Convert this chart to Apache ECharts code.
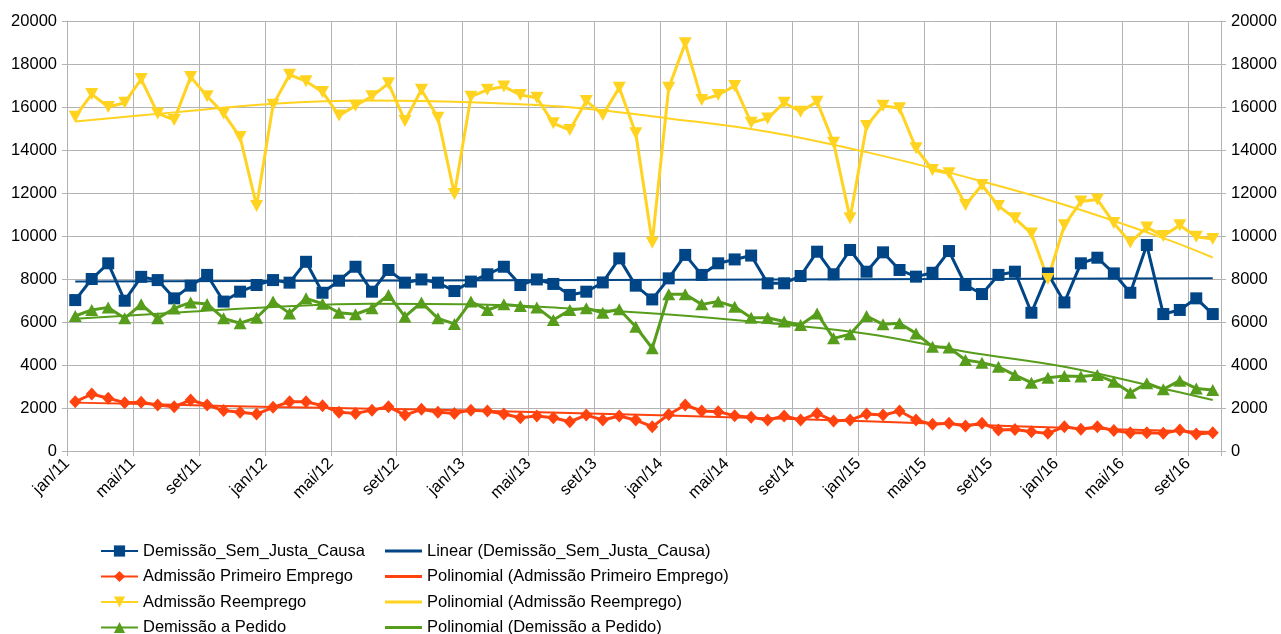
<!DOCTYPE html>
<html>
<head>
    <meta charset="utf-8">
    <title>Demissões e admissões</title>
    <script src="https://cdn.jsdelivr.net/npm/echarts/dist/echarts.min.js"></script>
    <style>
        html, body {
            margin: 0;
            padding: 0;
            background: #fff;
        }
        #chart {
            width: 1281px;
            height: 634px;
        }
    </style>
</head>
<body>
<div id="chart"></div>
<script>
    // categorias: jan/11 .. out/16
    var monthNames = ['jan', 'fev', 'mar', 'abr', 'mai', 'jun', 'jul', 'ago', 'set', 'out', 'nov', 'dez'];
    var years = ['11', '12', '13', '14', '15', '16'];
    var months = [];
    years.forEach(function (y) {
        monthNames.forEach(function (m) {
            months.push(m + '/' + y);
        });
    });
    months = months.slice(0, 70);

    var semJustaCausa = [
        7020, 8000, 8730, 6990, 8100, 7950, 7100, 7690, 8190, 6950, 7410, 7720,
        7950, 7830, 8800, 7360, 7920, 8570, 7410, 8420, 7830, 7980, 7830, 7440,
        7880, 8220, 8570, 7720, 7980, 7770, 7260, 7410, 7840, 8960, 7690, 7050,
        8030, 9120, 8190, 8730, 8910, 9090, 7800, 7800, 8140, 9270, 8220, 9350,
        8340, 9240, 8420, 8110, 8290, 9300, 7720, 7300, 8190, 8340, 6430, 8260,
        6910, 8730, 8990, 8260, 7360, 9580, 6370, 6560, 7100, 6370
    ];
    var primeiroEmprego = [
        2290, 2650, 2450, 2250, 2270, 2140, 2060, 2370, 2140, 1880, 1800, 1720,
        2030, 2290, 2290, 2110, 1800, 1750, 1900, 2060, 1670, 1940, 1800, 1750,
        1900, 1860, 1720, 1550, 1630, 1550, 1360, 1670, 1440, 1630, 1440, 1130,
        1700, 2140, 1860, 1830, 1640, 1570, 1440, 1630, 1440, 1750, 1400, 1440,
        1720, 1670, 1860, 1440, 1240, 1290, 1160, 1290, 980, 1000, 900, 820,
        1130, 1010, 1130, 950, 850, 850, 820, 980, 790, 850
    ];
    var reemprego = [
        15550, 16600, 16000, 16200, 17300, 15700, 15400, 17400, 16500, 15700, 14600, 11400,
        16100, 17500, 17200, 16700, 15600, 16060, 16500, 17100, 15350, 16800, 15500, 11950,
        16480, 16800, 16950, 16560, 16430, 15240, 14930, 16280, 15630, 16900, 14780, 9690,
        16900, 18960, 16330, 16560, 16980, 15270, 15470, 16200, 15780, 16250, 14340, 10820,
        15120, 16060, 15940, 14080, 13070, 12920, 11440, 12370, 11400, 10820, 10120, 8000,
        10500, 11600, 11700, 10600, 9700, 10400, 10000, 10500, 9970, 9860
    ];
    var aPedido = [
        6280, 6560, 6680, 6170, 6820, 6170, 6630, 6910, 6840, 6170, 5940, 6200,
        6950, 6400, 7100, 6850, 6430, 6360, 6640, 7260, 6250, 6910, 6170, 5910,
        6950, 6560, 6820, 6740, 6680, 6090, 6560, 6640, 6430, 6590, 5780, 4780,
        7290, 7290, 6820, 6950, 6710, 6200, 6200, 6020, 5860, 6400, 5240, 5430,
        6280, 5890, 5940, 5470, 4850, 4810, 4230, 4110, 3920, 3530, 3180, 3410,
        3490, 3460, 3530, 3220, 2710, 3150, 2870, 3270, 2910, 2840
    ];

    var linearIdx = [0, 69];
    var linearSemJusta = [7880, 8030];
    var polyIdx = [0, 6, 12, 18, 24, 30, 36, 42, 48, 54, 60, 66, 69];
    var polyPrimeiro = [2250, 2150, 2050, 1970, 1880, 1770, 1650, 1520, 1380, 1230, 1080, 950, 880];
    var polyReemprego = [15320, 15750, 16150, 16300, 16220, 15990, 15470, 14850, 13900, 12750, 11450, 9900, 9000];
    var polyPedido = [6150, 6430, 6700, 6850, 6820, 6630, 6350, 5950, 5450, 4620, 3920, 2900, 2370];

    var yTicks = {min: 0, max: 20000, interval: 2000};

    function trend(idx, vals) {
        var arr = months.map(function () { return null; });
        idx.forEach(function (k, j) { arr[k] = vals[j]; });
        return arr;
    }

    var font = 'Liberation Sans';
    var fontSize = 16.5;
    var gridColor = '#b3b3b3';
    var legendText = {fontFamily: font, fontSize: fontSize, color: '#000', lineHeight: 17};

    var chart = echarts.init(document.getElementById('chart'));
    var option = {
        animation: false,
        backgroundColor: '#fff',
        textStyle: {fontFamily: font},
        grid: {
            left: 67,
            right: 60,
            top: 21,
            bottom: 183,
            outerBoundsMode: 'none'
        },
        legend: [{
            orient: 'vertical',
            left: 100,
            bottom: -2,
            padding: 0,
            itemWidth: 37,
            itemHeight: 14,
            itemGap: 8.5,
            textStyle: legendText,
            data: ['Demissão_Sem_Justa_Causa', 'Admissão Primeiro Emprego', 'Admissão Reemprego', 'Demissão a Pedido']
        }, {
            orient: 'vertical',
            left: 385,
            bottom: -2,
            padding: 0,
            icon: 'rect',
            itemWidth: 37,
            itemHeight: 3,
            itemGap: 8.5,
            textStyle: legendText,
            data: ['Linear (Demissão_Sem_Justa_Causa)', 'Polinomial (Admissão Primeiro Emprego)',
                'Polinomial (Admissão Reemprego)', 'Polinomial (Demissão a Pedido)']
        }],
        xAxis: [{
            type: 'category',
            data: months,
            boundaryGap: true,
            axisLine: {lineStyle: {color: gridColor}},
            axisTick: {show: true, interval: 3, length: 5, lineStyle: {color: gridColor}},
            axisLabel: {show: false},
            splitLine: {show: true, interval: 3, lineStyle: {color: gridColor, width: 1}}
        }, {
            // só para os rótulos, posicionados nas divisas dos meses
            type: 'category',
            data: months.concat(['']),
            boundaryGap: false,
            position: 'bottom',
            axisLine: {show: false},
            axisTick: {show: false},
            splitLine: {show: false},
            axisLabel: {
                interval: 3,
                rotate: 45,
                margin: 10,
                fontFamily: font,
                fontSize: fontSize,
                color: '#000'
            }
        }],
        yAxis: [{
            type: 'value',
            min: yTicks.min,
            max: yTicks.max,
            interval: yTicks.interval,
            axisLine: {show: true, lineStyle: {color: gridColor}},
            axisTick: {show: true, length: 5, lineStyle: {color: gridColor}},
            axisLabel: {
                margin: 10, fontFamily: font, fontSize: fontSize, color: '#000',
                formatter: function (v) { return String(v); }
            },
            splitLine: {show: true, lineStyle: {color: gridColor, width: 1}}
        }, {
            type: 'value',
            position: 'right',
            min: yTicks.min,
            max: yTicks.max,
            interval: yTicks.interval,
            axisLine: {show: true, lineStyle: {color: gridColor}},
            axisTick: {show: true, length: 5, lineStyle: {color: gridColor}},
            axisLabel: {
                margin: 10, fontFamily: font, fontSize: fontSize, color: '#000',
                formatter: function (v) { return String(v); }
            },
            splitLine: {show: false}
        }],
        series: [{
            name: 'Linear (Demissão_Sem_Justa_Causa)',
            type: 'line',
            data: trend(linearIdx, linearSemJusta),
            connectNulls: true,
            symbol: 'none',
            color: '#004586',
            lineStyle: {width: 2},
            z: 1
        }, {
            name: 'Polinomial (Admissão Primeiro Emprego)',
            type: 'line',
            data: trend(polyIdx, polyPrimeiro),
            connectNulls: true,
            smooth: 0.4,
            symbol: 'none',
            color: '#ff420e',
            lineStyle: {width: 2},
            z: 1
        }, {
            name: 'Polinomial (Admissão Reemprego)',
            type: 'line',
            data: trend(polyIdx, polyReemprego),
            connectNulls: true,
            smooth: 0.4,
            symbol: 'none',
            color: '#ffd320',
            lineStyle: {width: 2},
            z: 1
        }, {
            name: 'Polinomial (Demissão a Pedido)',
            type: 'line',
            data: trend(polyIdx, polyPedido),
            connectNulls: true,
            smooth: 0.4,
            symbol: 'none',
            color: '#579d1c',
            lineStyle: {width: 2},
            z: 1
        }, {
            name: 'Demissão_Sem_Justa_Causa',
            type: 'line',
            data: semJustaCausa,
            showSymbol: true,
            showAllSymbol: true,
            symbol: 'rect',
            symbolSize: 12,
            color: '#004586',
            lineStyle: {width: 3},
            z: 3
        }, {
            name: 'Admissão Primeiro Emprego',
            type: 'line',
            data: primeiroEmprego,
            showSymbol: true,
            showAllSymbol: true,
            symbol: 'diamond',
            symbolSize: [12, 13],
            color: '#ff420e',
            lineStyle: {width: 3},
            z: 3
        }, {
            name: 'Admissão Reemprego',
            type: 'line',
            data: reemprego,
            showSymbol: true,
            showAllSymbol: true,
            symbol: 'triangle',
            symbolRotate: 180,
            symbolSize: [13, 12],
            color: '#ffd320',
            lineStyle: {width: 3},
            z: 3
        }, {
            name: 'Demissão a Pedido',
            type: 'line',
            data: aPedido,
            showSymbol: true,
            showAllSymbol: true,
            symbol: 'triangle',
            symbolSize: [13, 12],
            color: '#579d1c',
            lineStyle: {width: 3},
            z: 3
        }]
    };
    chart.setOption(option);
</script>
</body>
</html>
